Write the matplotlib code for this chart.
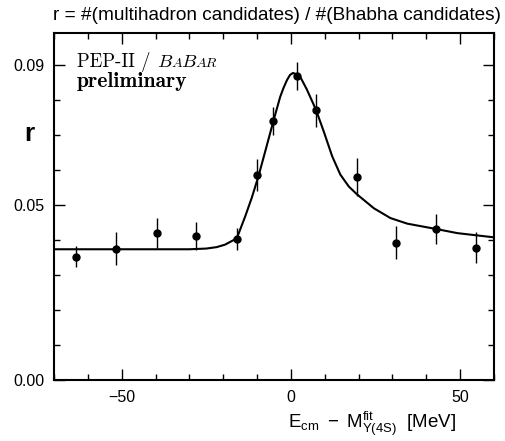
import matplotlib
matplotlib.use("Agg")
import matplotlib.pyplot as plt
from matplotlib.ticker import FixedLocator, MultipleLocator, FormatStrFormatter
from matplotlib.offsetbox import TextArea, HPacker, VPacker, AnchoredOffsetbox

# measured points (E_cm - M [MeV], ratio r, error)
scan_x = [-63.4, -51.6, -39.7, -27.9, -16.0, -10.0, -5.2, 1.8, 7.4, 19.5, 31.0, 42.8, 54.8]
scan_r = [0.0352, 0.0375, 0.0419, 0.0411, 0.0403, 0.0585, 0.0738, 0.0867, 0.0769, 0.0580, 0.0391, 0.0431, 0.0378]
scan_err = [0.0030, 0.0046, 0.0043, 0.0040, 0.0032, 0.0045, 0.0040, 0.0041, 0.0048, 0.0054, 0.0047, 0.0044, 0.0043]

# fit curve
fit_x = [-70, -30, -25, -22, -19.5, -16, -13.5, -11.6, -9.6, -7.6, -5.2, -3.2, -2.2, -1.2, -0.3,
         0.6, 1.7, 2.8, 4.7, 7.4, 9.7, 12.2, 14.6, 17.1, 19.6, 24.5, 29.4, 34.4, 42.8, 49.2, 60]
fit_r = [0.0373, 0.0373, 0.0375, 0.0379, 0.0386, 0.0404, 0.0467, 0.0519, 0.0581, 0.0652, 0.0738,
         0.0807, 0.0833, 0.0855, 0.0870, 0.0876, 0.0872, 0.0864, 0.0829, 0.0771, 0.0709, 0.0638,
         0.0586, 0.0552, 0.0529, 0.0490, 0.0462, 0.0446, 0.0431, 0.0419, 0.0407]

x_major = [-50, 0, 50]
y_major = [0.00, 0.05, 0.09]

plt.rcParams['font.family'] = ['Liberation Sans', 'DejaVu Sans']
plt.rcParams['mathtext.fontset'] = 'custom'
plt.rcParams['mathtext.rm'] = 'Liberation Sans'
plt.rcParams['mathtext.it'] = 'Liberation Sans:italic'
plt.rcParams['mathtext.bf'] = 'Liberation Sans:bold'

fig = plt.figure(figsize=(5.06, 4.41), dpi=100)
ax = fig.add_axes([54 / 506, 61 / 441, 440 / 506, 347 / 441])

ax.plot(fit_x, fit_r, color='black', lw=1.5)
ax.errorbar(scan_x, scan_r, yerr=scan_err, fmt='o', color='black', ms=5,
            elinewidth=1, capsize=0)

ax.set_xlim(-70, 60)
ax.set_ylim(0, 0.099)
ax.xaxis.set_major_locator(FixedLocator(x_major))
ax.xaxis.set_minor_locator(MultipleLocator(10))
ax.yaxis.set_major_locator(FixedLocator(y_major))
ax.yaxis.set_minor_locator(MultipleLocator(0.01))
ax.yaxis.set_major_formatter(FormatStrFormatter('%.2f'))
ax.tick_params(which='both', direction='in', top=True, right=True, width=1, labelsize=11.5)
ax.tick_params(which='major', length=8, pad=7)
ax.tick_params(which='minor', length=4)
for s in ax.spines.values():
    s.set_linewidth(1.5)

# texts
fig.text(277 / 506, 1 - 15 / 441, 'r = #(multihadron candidates) / #(Bhabha candidates)',
         ha='center', va='center', fontsize=13.7)
fig.text(29 / 506, 1 - 134 / 441, 'r', ha='center', va='center', fontsize=19, weight='bold')
fig.text(456 / 506, 13 / 441,
         r'$\mathrm{E_{cm}}\ -\ \mathrm{M}^{\mathrm{fit}}_{\Upsilon\mathrm{(4S)}}$  [MeV]',
         ha='right', va='baseline', fontsize=13.5)

# experiment label
sz = 13.5
serif = ['cmr10', 'DejaVu Serif']
ital = ['cmmi10', 'DejaVu Serif']
row1 = HPacker(children=[
    TextArea('PEP-II / ', textprops=dict(family=serif, size=sz)),
    TextArea('B', textprops=dict(family=ital, size=sz)),
    TextArea('A', textprops=dict(family=ital, size=sz * 0.75)),
    TextArea('B', textprops=dict(family=ital, size=sz)),
    TextArea('AR', textprops=dict(family=ital, size=sz * 0.75)),
], align='baseline', pad=0, sep=0)
row2 = TextArea('preliminary', textprops=dict(family=['cmb10', 'DejaVu Serif'], size=15.5))
box = VPacker(children=[row1, row2], align='left', pad=0, sep=0)
anch = AnchoredOffsetbox(loc='upper left', child=box, pad=0, borderpad=0, frameon=False,
                         bbox_to_anchor=(77 / 506, 1 - 52 / 441), bbox_transform=fig.transFigure)
ax.add_artist(anch)

fig.savefig('out.png', dpi=100)
